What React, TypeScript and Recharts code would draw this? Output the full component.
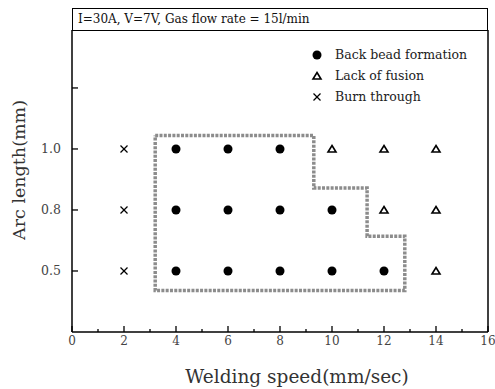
import {
  Legend,
  ReferenceLine,
  Scatter,
  ScatterChart,
  XAxis,
  YAxis,
} from "recharts";

const FONT = "'DejaVu Serif', serif";

// welding speed (mm/sec) tick values; only the even ones get labels
const xTicks = [0, 1, 2, 3, 4, 5, 6, 7, 8, 9, 10, 11, 12, 13, 14, 15, 16];
// arc length levels, plotted on evenly spaced rows
const arcLengths = [0.5, 0.8, 1.0];
const yTicks = [1, 2, 3, 4];

const backBeadSpeed = [4, 6, 8, 4, 6, 8, 10, 4, 6, 8, 10, 12];
const backBeadArc = [1.0, 1.0, 1.0, 0.8, 0.8, 0.8, 0.8, 0.5, 0.5, 0.5, 0.5, 0.5];

const lackSpeed = [10, 12, 14, 12, 14, 14];
const lackArc = [1.0, 1.0, 1.0, 0.8, 0.8, 0.5];

const burnSpeed = [2, 2, 2];
const burnArc = [1.0, 0.8, 0.5];

// process window outline (speed, row position)
const boundaryX = [3.2, 9.3, 9.3, 11.35, 11.35, 12.8, 12.8, 3.2, 3.2];
const boundaryY = [3.22, 3.22, 2.36, 2.36, 1.57, 1.57, 0.68, 0.68, 3.22];

const legendNames = ["Back bead formation", "Lack of fusion", "Burn through"];

const row = (a: number) => arcLengths.indexOf(a) + 1;
const rowLabel = (v: number) => (v >= 1 && v <= arcLengths.length ? arcLengths[v - 1].toFixed(1) : "");

const toPoints = (xs: number[], arcs: number[]) => xs.map((x, i) => ({ x, y: row(arcs[i]) }));

const backBead = toPoints(backBeadSpeed, backBeadArc);
const lack = toPoints(lackSpeed, lackArc);
const burn = toPoints(burnSpeed, burnArc);
const boundary = boundaryX.map((x, i) => ({ x, y: boundaryY[i] }));

const Dot = ({ cx, cy }: any) => <circle cx={cx} cy={cy} r={4.5} fill="#000" />;
const Tri = ({ cx, cy }: any) => (
  <polygon
    points={`${cx},${cy - 3.5} ${cx + 4},${cy + 3} ${cx - 4},${cy + 3}`}
    fill="none"
    stroke="#000"
    strokeWidth={1.6}
  />
);
const Cross = ({ cx, cy }: any) => (
  <g stroke="#000" strokeWidth={1.3}>
    <line x1={cx - 3.5} y1={cy - 3.5} x2={cx + 3.5} y2={cy + 3.5} />
    <line x1={cx - 3.5} y1={cy + 3.5} x2={cx + 3.5} y2={cy - 3.5} />
  </g>
);

const XTick = ({ x, y, payload }: any) => {
  const v = payload.value;
  const major = v % 2 === 0;
  return (
    <g>
      <line x1={x} x2={x} y1={y} y2={y - (major ? 6 : 3)} stroke="#000" strokeWidth={1.3} />
      {major && (
        <text x={x} y={y + 13} textAnchor="middle" fontFamily={FONT} fontSize={12} fill="#444">
          {v}
        </text>
      )}
    </g>
  );
};

const YTick = ({ x, y, payload }: any) => (
  <g>
    <line x1={x} x2={x + 6} y1={y} y2={y} stroke="#000" strokeWidth={1.3} />
    <text x={x - 11} y={y + 4.5} textAnchor="end" fontFamily={FONT} fontSize={12.5} fill="#444">
      {rowLabel(payload.value)}
    </text>
  </g>
);

const legendIcons: Record<string, any> = {
  "Back bead formation": <circle cx={6} cy={6} r={4.5} fill="#000" />,
  "Lack of fusion": <polygon points="6,2.5 10,9 2,9" fill="none" stroke="#000" strokeWidth={1.6} />,
  "Burn through": (
    <g stroke="#000" strokeWidth={1.3}>
      <line x1={2.5} y1={2.5} x2={9.5} y2={9.5} />
      <line x1={2.5} y1={9.5} x2={9.5} y2={2.5} />
    </g>
  ),
};

const LegendBox = () => (
  <div style={{ fontFamily: FONT, fontSize: 12.5, color: "#222" }}>
    {legendNames.map((name) => (
      <div key={name} style={{ display: "flex", alignItems: "center", height: 21 }}>
        <svg width={12} height={12} style={{ marginRight: 12 }}>
          {legendIcons[name]}
        </svg>
        {name}
      </div>
    ))}
  </div>
);

export default function App() {
  return (
    <div style={{ position: "relative", width: 487, height: 381 }}>
      <style>{`html { overflow: hidden; } body { margin: 8px 0 0 8px; } .recharts-surface { overflow: visible; }`}</style>
      <div
        style={{
          position: "absolute",
          left: 64,
          top: 0,
          width: 416,
          height: 23,
          boxSizing: "border-box",
          border: "1.5px solid #000",
          fontFamily: FONT,
          fontSize: 12,
          lineHeight: "20px",
          paddingLeft: 5,
          color: "#111",
        }}
      >
        I=30A, V=7V, Gas flow rate = 15l/min
      </div>
      <ScatterChart width={487} height={381} margin={{ top: 22, right: 7, bottom: 0, left: 0 }}>
        <XAxis
          type="number"
          dataKey="x"
          domain={[0, 16]}
          ticks={xTicks}
          interval={0}
          height={57}
          tickSize={0}
          tickMargin={0}
          tick={<XTick />}
          axisLine={{ stroke: "#000", strokeWidth: 1.5 }}
          label={{
            value: "Welding speed(mm/sec)",
            content: ({ viewBox }: any) => (
              <text
                x={viewBox.x + viewBox.width / 2 + 17}
                y={viewBox.y + viewBox.height - 6}
                textAnchor="middle"
                fontFamily={FONT}
                fontSize={18.5}
                fill="#333"
              >
                Welding speed(mm/sec)
              </text>
            ),
          }}
        />
        <YAxis
          type="number"
          dataKey="y"
          domain={[0, 4.95]}
          ticks={yTicks}
          interval={0}
          width={64}
          tickSize={0}
          tickMargin={0}
          tick={<YTick />}
          axisLine={{ stroke: "#000", strokeWidth: 1.5 }}
          allowDataOverflow
          label={{
            value: "Arc length(mm)",
            content: ({ viewBox }: any) => (
              <text
                transform={`translate(${viewBox.x + 11}, ${viewBox.y + viewBox.height / 2 - 11}) rotate(-90)`}
                textAnchor="middle"
                dominantBaseline="central"
                fontFamily={FONT}
                fontSize={17.5}
                fill="#333"
              >
                Arc length(mm)
              </text>
            ),
          }}
        />
        <ReferenceLine x={16} stroke="#000" strokeWidth={1.5} />
        <Legend
          layout="vertical"
          align="center"
          verticalAlign="middle"
          wrapperStyle={{ top: 36, left: 303, width: 180 }}
          content={<LegendBox />}
        />
        <Scatter
          name="boundary"
          data={boundary}
          legendType="none"
          line={{ stroke: "#8c8c8c", strokeWidth: 3.5, strokeDasharray: "3 1.3" }}
          shape={() => <g />}
          isAnimationActive={false}
        />
        <Scatter name="Back bead formation" data={backBead} shape={<Dot />} isAnimationActive={false} />
        <Scatter name="Lack of fusion" data={lack} shape={<Tri />} isAnimationActive={false} />
        <Scatter name="Burn through" data={burn} shape={<Cross />} isAnimationActive={false} />
      </ScatterChart>
    </div>
  );
}
